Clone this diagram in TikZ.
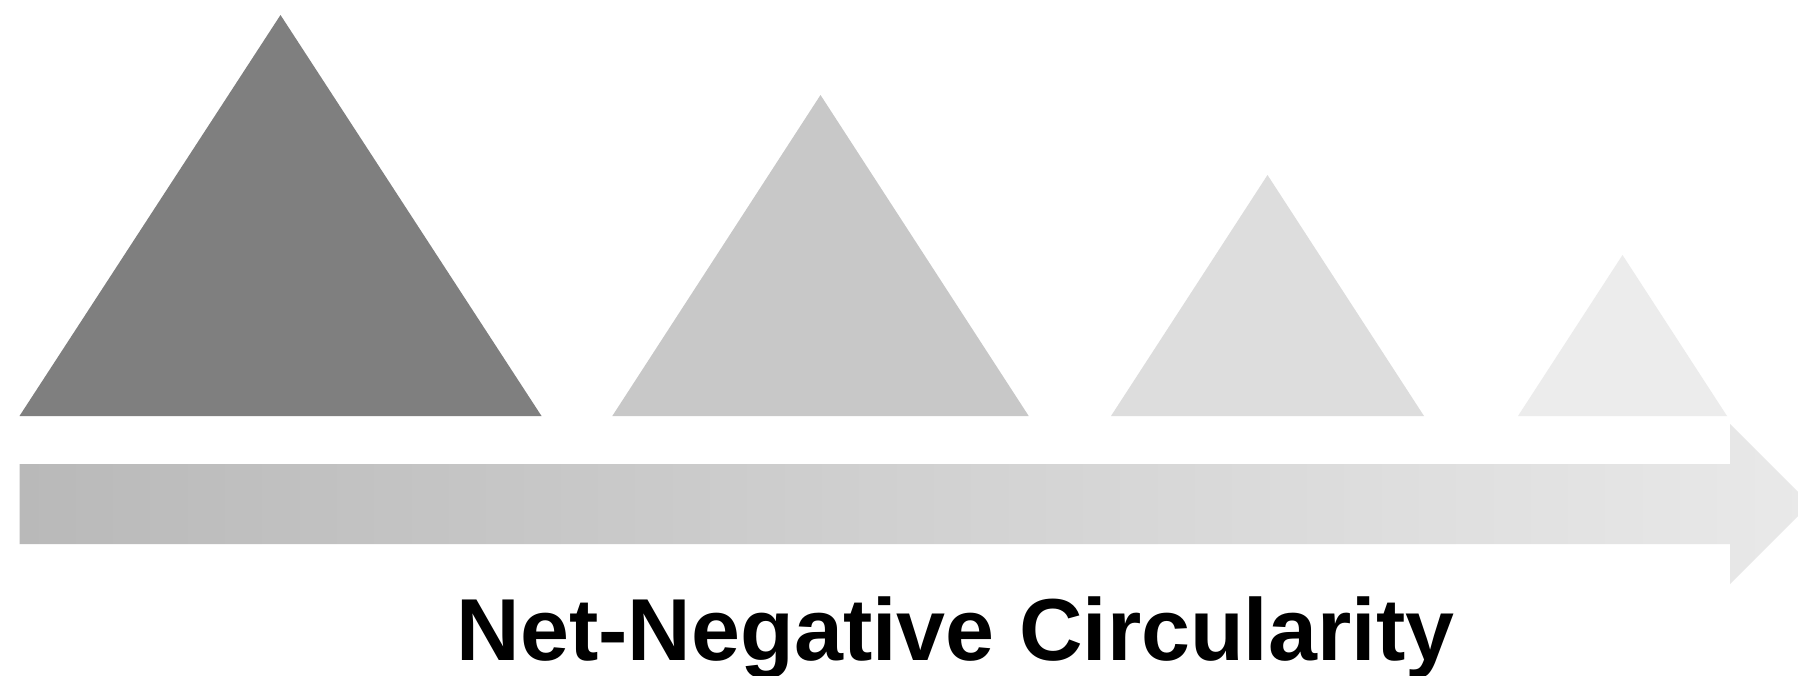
\documentclass[tikz,border=0pt]{standalone}
\usepackage{fontspec}
\setmainfont{Liberation Sans}
\definecolor{triA}{RGB}{127,127,127}
\definecolor{triB}{RGB}{200,200,200}
\definecolor{triC}{RGB}{221,221,221}
\definecolor{triD}{RGB}{236,236,236}
\definecolor{arrL}{RGB}{185,185,185}
\definecolor{arrR}{RGB}{233,233,233}
\begin{document}
\begin{tikzpicture}[x=1pt,y=-1pt,
  tribox/.style={draw=none},
  labeltext/.style={inner sep=0pt, anchor=base west, font=\fontsize{88}{100}\selectfont\bfseries}]
\useasboundingbox (0,0) rectangle (1798,675);
\clip (0,0) rectangle (1798,675);
\fill[white] (0,0) rectangle (1798,675);
% triangles
\fill[tribox, triA] (19.5,416) -- (280.5,15) -- (541.5,416) -- cycle;
\fill[tribox, triB] (612.3,416) -- (820.5,95) -- (1028.7,416) -- cycle;
\fill[tribox, triC] (1111,416) -- (1267.5,175) -- (1424,416) -- cycle;
\fill[tribox, triD] (1518,416) -- (1622.5,255) -- (1727,416) -- cycle;
% arrow
\shade[left color=arrL, right color=arrR]
  (19.5,464) -- (1730,464) -- (1730,424) -- (1810,504) -- (1730,584) -- (1730,544) -- (19.5,544) -- cycle;
% label
\node[labeltext] (lbl) at (456.6,660) {Net-Negative Circularity};
\end{tikzpicture}
\end{document}
